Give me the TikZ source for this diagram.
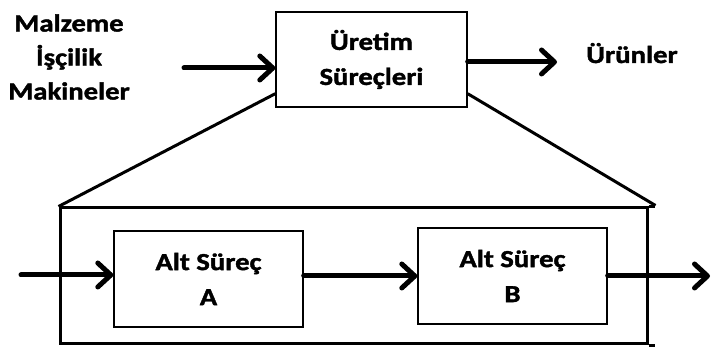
\documentclass[tikz,border=0pt]{standalone}
\usepackage{fontspec}
\setmainfont{Carlito}[FakeStretch=1.17, BoldFeatures={FakeBold=1.6}]
\usetikzlibrary{arrows.meta,calc}
\begin{document}
\begin{tikzpicture}[x=1pt,y=-1pt,
  lbl/.style={font=\fontsize{24.5}{34}\selectfont\bfseries, align=center, inner sep=0pt},
  procbox/.style={draw, line width=1.4pt, fill=white, minimum width=#1, minimum height=96pt, inner sep=0pt,
    font=\fontsize{24.5}{35}\selectfont\bfseries, align=center},
  flow/.style={line width=5pt, line cap=round,
    -{Straight Barb[length=13pt, width=24pt, line cap=round, line join=round]}},
  frame/.style={line width=3pt}
]
\useasboundingbox (0,0) rectangle (713,347);

% outer frame of the expanded process
\node[draw, frame, minimum width=587pt, minimum height=136pt, inner sep=0pt] (sys) at (353.5,276) {};
\draw[frame] (sys.north east) -- ++(6,0);
\draw[frame] (sys.south east) -- ++(6,0);

% main process
\node[procbox=191pt, minimum height=95pt] (top) at (371.5,59.5) {Üretim\\Süreçleri};

% zoom lines from the main process to the frame
\draw[frame] ($(top.south west)+(0,-14)$) -- (sys.north west);
\draw[frame] ($(top.south east)+(0,-14)$) -- ($(sys.north east)+(7,-1)$);

% inputs and outputs
\node[lbl] (inp) at (69,57) {Malzeme\\İşçilik\\Makineler};
\node[lbl, anchor=base] (outp) at (632,63) {Ürünler};
\coordinate (inS) at (184,68);
\coordinate (outE) at (557,62);
\draw[flow] (inS) -- (inS -| top.west);
\draw[flow] (outE -| top.east) -- (outE);

% sub-processes
\node[procbox=189pt] (A) at (208.5,279) {Alt Süreç\\A};
\node[procbox=189pt] (B) at (512.5,276) {Alt Süreç\\B};

\coordinate (sIn) at (21,275);
\coordinate (sOut) at (710,276);
\draw[flow] (sIn) -- (sIn -| A.west);
\draw[flow] (A.east |- B.west) -- (B.west);
\draw[flow] (B.east) -- (sOut);
\end{tikzpicture}
\end{document}
